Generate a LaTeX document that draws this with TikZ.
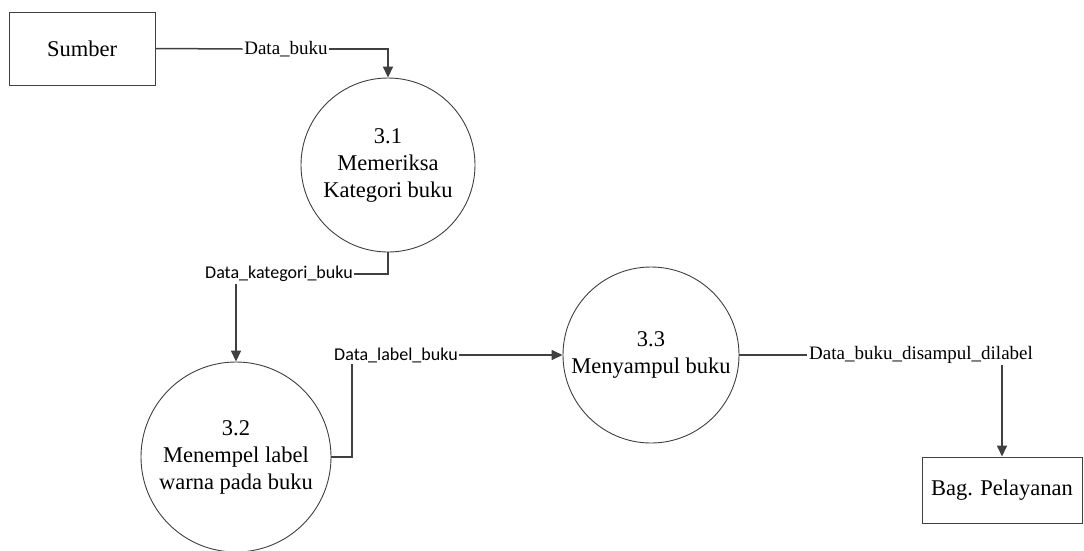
\documentclass[tikz,border=0pt]{standalone}
\usepackage{fontspec}
\setmainfont{Liberation Serif}
\newfontfamily\timesfont{Liberation Serif}
\newfontfamily\calibrifont{Carlito}
\usetikzlibrary{arrows.meta}
\definecolor{ln}{HTML}{404040}
\tikzset{
  proc/.style={circle,draw=ln,line width=0.9pt,minimum size=#1,inner sep=0pt,align=center,font=\timesfont\fontsize{22.5}{27}\selectfont},
  ent/.style={rectangle,draw=ln,line width=0.9pt,inner sep=0pt,align=center,font=\timesfont\fontsize{22.5}{27}\selectfont},
  lbls/.style={fill=white,inner sep=1.5pt,font=\timesfont\fontsize{19}{22}\selectfont},
  lblc/.style={fill=white,inner sep=1.5pt,font=\calibrifont\fontsize{18}{21}\selectfont},
  flow/.style={draw=ln,line width=1.5pt},
  arr/.style={flow,-{Triangle[length=11pt,width=10pt]}}
}
\begin{document}
\begin{tikzpicture}[x=1pt,y=-1pt]
\useasboundingbox[fill=white] (0,0) rectangle (1084,550);
\node[ent,minimum width=146pt,minimum height=73pt] (sumber) at (82,48.5) {Sumber};
\node[ent,minimum width=160pt,minimum height=66pt] (bag) at (1002,490) {Bag. Pelayanan};
\node[proc=174pt] (p31) at (388,165) {3.1\\Memeriksa\\Kategori buku};
\node[proc=190pt] (p32) at (236,457) {3.2\\Menempel label\\warna pada buku};
\node[proc=176pt] (p33) at (651,355) {3.3\\Menyampul buku};
\node[lbls] (l1) at (286,49) {Data\_buku};
\node[lblc] (l2) at (279,274) {Data\_kategori\_buku};
\node[lblc] (l3) at (396,355) {Data\_label\_buku};
\node[lbls] (l4) at (921,355) {Data\_buku\_disampul\_dilabel};
\coordinate (k3) at (352,0);
\draw[flow] (sumber.east) -- (l1.west);
\draw[arr] (l1.east) -| (p31.north);
\draw[flow] (p31.south) |- (l2.east);
\draw[arr] (l2.south -| p32.north) -- (p32.north);
\draw[flow] (p32.east) -| (k3 |- l3.south);
\draw[arr] (l3.east) -- (p33.west);
\draw[flow] (p33.east) -- (l4.west);
\draw[arr] (l4.south -| bag.north) -- (bag.north);
\end{tikzpicture}
\end{document}
